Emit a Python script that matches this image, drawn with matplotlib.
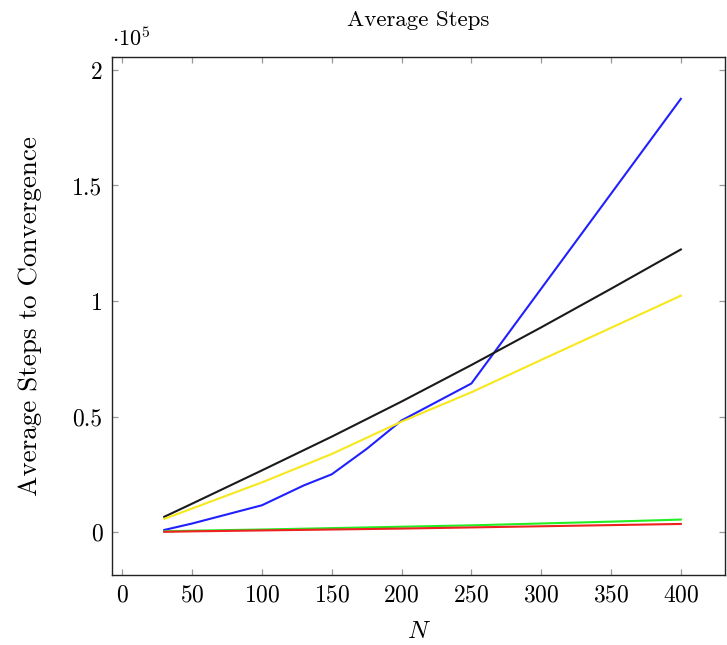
import matplotlib
matplotlib.use("Agg")
import matplotlib.pyplot as plt
from matplotlib.ticker import FuncFormatter

plt.rcParams['font.family'] = ['cmr10', 'DejaVu Serif']
plt.rcParams['mathtext.fontset'] = 'cm'
plt.rcParams['axes.unicode_minus'] = False
plt.rcParams['axes.formatter.use_mathtext'] = True

# Data
n_blue = [30, 50, 100, 130, 150, 175, 200, 250, 400]
steps_blue = [900, 3700, 11600, 20200, 25000, 36000, 48300, 64300, 187500]

n_common = [30, 50, 100, 150, 200, 250, 300, 350, 400]
steps_black = [6600, 12300, 26700, 41300, 56500, 72300, 88600, 105300, 122300]
steps_yellow = [5700, 10200, 21500, 33800, 47800, 60500, 74500, 88400, 102300]
steps_green = [300, 600, 1100, 1700, 2300, 2900, 3700, 4500, 5400]
steps_red = [100, 300, 700, 1100, 1500, 2000, 2500, 3000, 3500]

x_ticks = [0, 50, 100, 150, 200, 250, 300, 350, 400]
y_ticks = [0, 50000, 100000, 150000, 200000]

fig = plt.figure(figsize=(7.27, 6.45), dpi=100)
ax = fig.add_axes([0.1545, 0.1085, 0.8425, 0.8031])

lw = 1.5
ax.plot(n_blue, steps_blue, color='#2020ff', lw=lw)
ax.plot(n_common, steps_black, color='#1a1a1a', lw=lw)
ax.plot(n_common, steps_yellow, color='#f7e81c', lw=lw)
ax.plot(n_common, steps_green, color='#22ee22', lw=lw)
ax.plot(n_common, steps_red, color='#ee2020', lw=lw)

ax.set_xlim(-7.2, 431.5)
ax.set_ylim(-18600, 205600)
ax.set_xticks(x_ticks)
ax.set_yticks(y_ticks)

def yfmt(v, pos):
    s = v / 1e5
    return '%g' % s
ax.yaxis.set_major_formatter(FuncFormatter(yfmt))

ax.tick_params(direction='in', length=4.5, width=0.9, color='#999999',
               top=True, right=True, labelsize=17, pad=7)
for sp in ax.spines.values():
    sp.set_linewidth(1.0)
    sp.set_color('#222222')

ax.set_xlabel(r'$N$', fontsize=18, labelpad=10)
ax.set_ylabel('Average Steps to Convergence', fontsize=19.5, labelpad=22)
ax.set_title('Average Steps', fontsize=16.5, pad=22)
ax.text(0.0, 1.014, r'$\cdot10^5$', transform=ax.transAxes, fontsize=16,
        ha='left', va='bottom')

fig.savefig('out.png', dpi=100)
